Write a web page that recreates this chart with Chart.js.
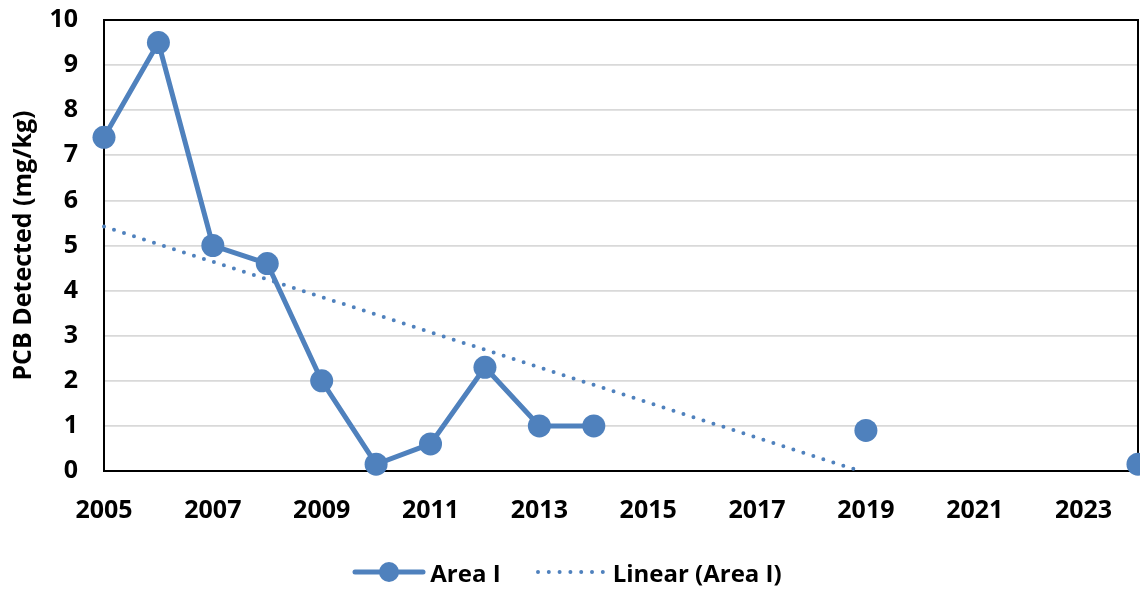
<!DOCTYPE html>
<html>
<head>
<meta charset="utf-8">
<script src="https://cdn.jsdelivr.net/npm/chart.js@4.4.1/dist/chart.umd.min.js"></script>
<style>
  html, body { margin:0; padding:0; background:#fff; overflow:hidden; }
  #wrap { position:relative; width:1140px; height:589px; }
  #legend { position:absolute; left:-3px; width:1140px; top:556px; height:32px; display:flex; justify-content:center; align-items:center; font-family:"Open Sans", sans-serif; font-weight:bold; font-size:24px; color:#000; }
  #legend .item { display:flex; align-items:center; }
  #legend svg { margin-right:4px; }
</style>
</head>
<body>
<div id="wrap">
  <canvas id="c" width="1140" height="589"></canvas>
  <div id="legend">
    <div class="item" style="margin-right:34px;">
      <svg width="74" height="26"><line x1="3" y1="13" x2="71" y2="13" stroke="#4F81BD" stroke-width="5" stroke-linecap="round"/><circle cx="37" cy="13" r="10" fill="#4F81BD"/></svg>
      <span>Area I</span>
    </div>
    <div class="item">
      <svg width="74" height="26"><line x1="3" y1="13" x2="72" y2="13" stroke="#4F81BD" stroke-width="4" stroke-linecap="round" stroke-dasharray="0 10.8"/></svg>
      <span>Linear (Area I)</span>
    </div>
  </div>
</div>
<script>
const years = [2005, 2006, 2007, 2008, 2009, 2010, 2011, 2012, 2013, 2014, 2019, 2024];
const values = [7.4, 9.5, 5.0, 4.6, 2.0, 0.15, 0.6, 2.3, 1.0, 1.0, 0.9, 0.15];
const xTickLabels = [2005, 2007, 2009, 2011, 2013, 2015, 2017, 2019, 2021, 2023];
const yTickLabels = [0, 1, 2, 3, 4, 5, 6, 7, 8, 9, 10];
const seriesName = "Area I";
const trendName = "Linear (Area I)";
const yTitle = "PCB Detected (mg/kg)";

// series points, broken where years are not consecutive
const seriesData = [];
years.forEach((yr, i) => {
  if (i > 0 && yr - years[i - 1] > 1) seriesData.push({ x: (yr + years[i - 1]) / 2, y: null });
  seriesData.push({ x: yr, y: values[i] });
});

// least-squares trendline (as in Excel), clipped at the axis minimum 0
const n = years.length;
const mx = years.reduce((a, b) => a + b, 0) / n;
const my = values.reduce((a, b) => a + b, 0) / n;
let sxx = 0, sxy = 0;
years.forEach((x, i) => { sxx += (x - mx) * (x - mx); sxy += (x - mx) * (values[i] - my); });
const slope = sxy / sxx;
const icpt = my - slope * mx;
const x0 = years[0];
const xEnd = Math.min(-icpt / slope, years[n - 1]);
const trendData = [{ x: x0, y: icpt + slope * x0 }, { x: xEnd, y: Math.max(0, icpt + slope * xEnd) }];

const blue = "#4F81BD";
const fam = "'Open Sans', sans-serif";
const font = { family: fam, weight: "bold", size: 25 };

const frame = {
  id: "frame",
  beforeDatasetsDraw(chart) {
    const a = chart.chartArea, ctx = chart.ctx;
    ctx.save();
    ctx.strokeStyle = "#000";
    ctx.lineWidth = 2;
    ctx.strokeRect(a.left, a.top, a.right - a.left, a.bottom - a.top);
    ctx.restore();
  }
};

new Chart(document.getElementById("c"), {
  type: "line",
  data: {
    datasets: [
      {
        label: trendName,
        data: trendData,
        borderColor: blue,
        borderWidth: 4,
        borderDash: [0, 10.5],
        borderCapStyle: "round",
        pointRadius: 0,
        fill: false,
        order: 2,
        clip: false
      },
      {
        label: seriesName,
        data: seriesData,
        borderColor: blue,
        backgroundColor: blue,
        borderWidth: 5,
        pointRadius: 11.5,
        pointHoverRadius: 11.5,
        pointBorderWidth: 0,
        pointBackgroundColor: blue,
        spanGaps: false,
        fill: false,
        order: 1,
        clip: false
      }
    ]
  },
  options: {
    responsive: false,
    animation: false,
    events: [],
    layout: { autoPadding: false, padding: { left: 0, right: 2, top: 20, bottom: 58 } },
    plugins: { legend: { display: false }, tooltip: { enabled: false } },
    scales: {
      x: {
        type: "linear",
        min: years[0],
        max: years[n - 1],
        afterBuildTicks(s) { s.ticks = xTickLabels.map(v => ({ value: v })); },
        afterFit(s) { s.height = 60; s.paddingLeft = 0; s.paddingRight = 0; },
        grid: { display: false, drawTicks: false },
        border: { display: true, color: "#000", width: 2 },
        ticks: { color: "#000", font, padding: 25, maxRotation: 0, autoSkip: false, callback: v => String(v) }
      },
      y: {
        min: 0,
        max: 10,
        afterBuildTicks(s) { s.ticks = yTickLabels.map(v => ({ value: v })); },
        afterFit(s) { s.width = 104; s.paddingTop = 0; s.paddingBottom = 0; },
        grid: { color: "#d9d9d9", lineWidth: 1.8, drawTicks: false },
        border: { display: true, color: "#000", width: 2 },
        ticks: { color: "#000", font, padding: 26 },
        title: { display: true, text: yTitle, color: "#000", font: { family: fam, weight: "bold", size: 25 }, padding: { top: 9, bottom: 0 } }
      }
    }
  },
  plugins: [frame]
});
</script>
</body>
</html>
